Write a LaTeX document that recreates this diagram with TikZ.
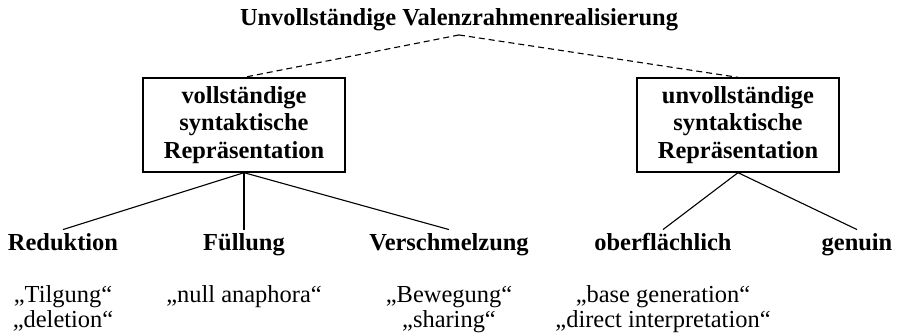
\documentclass[tikz,border=0pt]{standalone}
\usepackage{fontspec}
\setmainfont{Liberation Serif}
\usetikzlibrary{positioning}
\tikzset{
  % Heading over the whole tree
  toplabel/.style={
    font=\fontsize{11}{12}\selectfont\bfseries,
    inner sep=1.5pt,
  },
  % Framed category boxes
  catbox/.style={
    draw=black, line width=0.6pt,
    minimum width=90.9pt, minimum height=42.3pt,
    align=center, inner sep=3pt,
    font=\fontsize{11}{12.4}\selectfont\bfseries,
  },
  % Leaf labels and their glosses
  leaf/.style={
    font=\fontsize{11}{12}\selectfont\bfseries,
    text height=0.75em, text depth=0.25em, inner sep=1.5pt,
  },
  gloss/.style={
    font=\fontsize{11}{11.25}\selectfont,
    align=center, inner sep=1.5pt,
  },
  % Lines
  treeline/.style={line width=0.5pt},
  dashline/.style={line width=0.5pt, dash pattern=on 2.7pt off 1.8pt},
}
\begin{document}
\begin{tikzpicture}[x=0.45pt, y=-0.45pt, node distance=10.2pt]
  \useasboundingbox (0,0) rectangle (898,333);

  \node[toplabel] (top) at (459,20) {Unvollständige Valenzrahmenrealisierung};

  \node[catbox] (full) at (244,125)
    {vollständige\\syntaktische\\Repräsentation};
  \node[catbox] (part) at (738,125)
    {unvollständige\\syntaktische\\Repräsentation};

  \node[leaf, anchor=base] (red) at (63,250) {Reduktion};
  \node[leaf, anchor=base] (fil) at (244,250) {Füllung};
  \node[leaf, anchor=base] (mrg) at (449,250) {Verschmelzung};
  \node[leaf, anchor=base] (srf) at (663,250) {oberflächlich};
  \node[leaf, anchor=base] (gen) at (857,250) {genuin};

  \node[gloss, below=of red] (redg) {„Tilgung“\\„deletion“};
  \node[gloss, below=of fil] (filg) {„null anaphora“};
  \node[gloss, below=of mrg] (mrgg) {„Bewegung“\\„sharing“};
  \node[gloss, below=of srf] (srfg)
    {„base generation“\\„direct interpretation“};

  \draw[dashline] (top.south) -- (full.north);
  \draw[dashline] (top.south) -- (part.north);

  \draw[treeline] (full.south) -- (red.north);
  \draw[treeline] (full.south) -- (fil.north);
  \draw[treeline] (full.south) -- (mrg.north);
  \draw[treeline] (part.south) -- (srf.north);
  \draw[treeline] (part.south) -- (gen.north);
\end{tikzpicture}
\end{document}
